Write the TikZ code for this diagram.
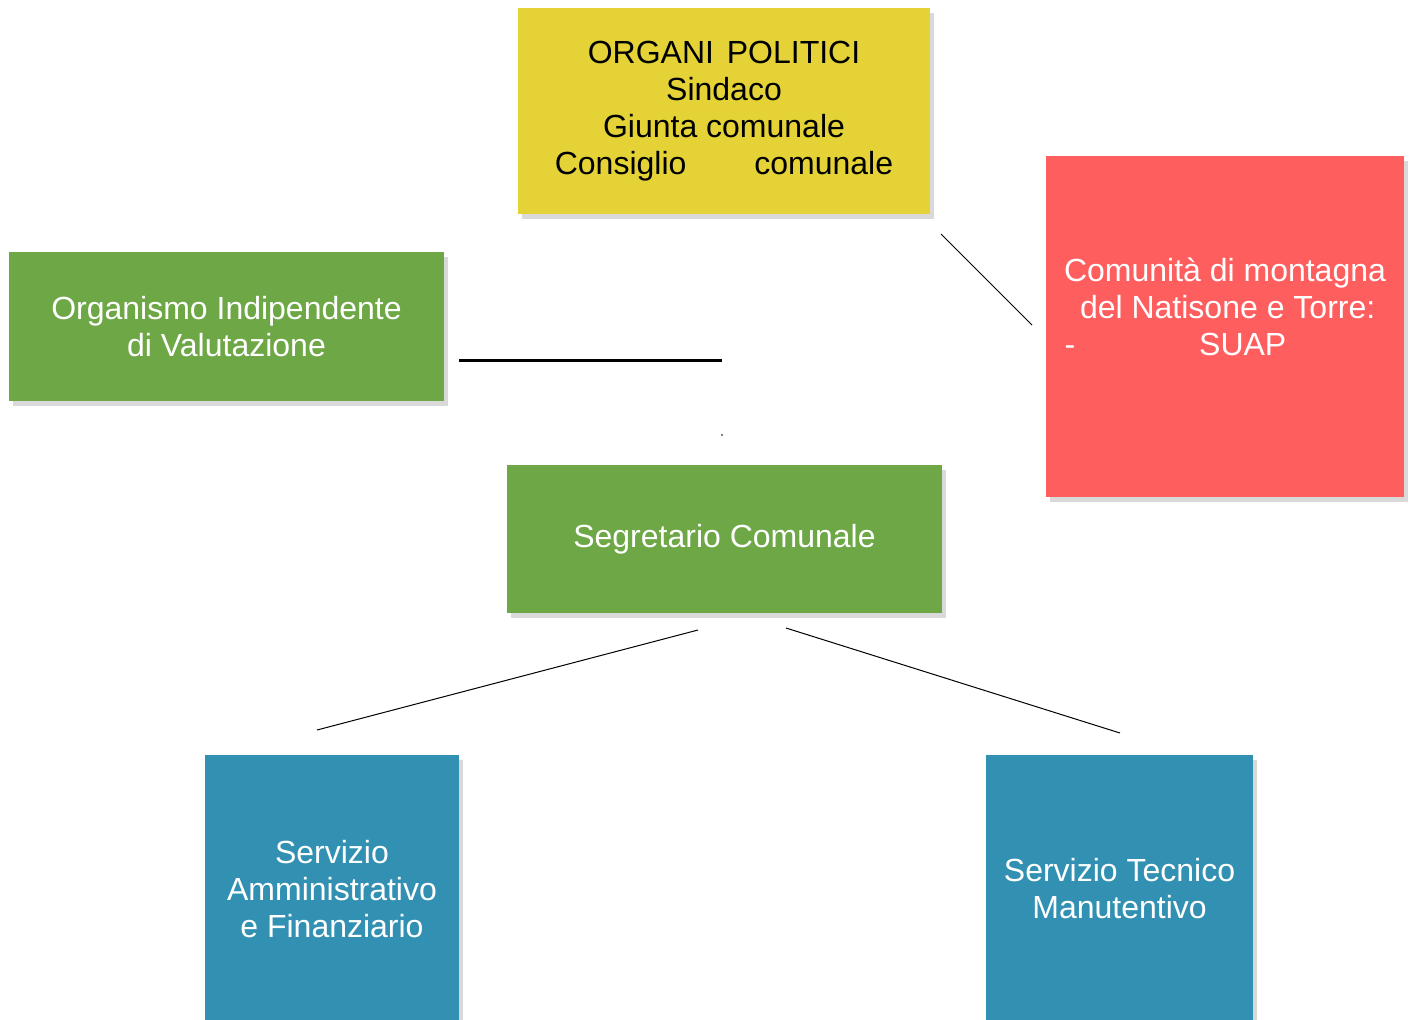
\documentclass[tikz,border=0pt]{standalone}
\usepackage{fontspec}
\setmainfont{Liberation Sans}
\usetikzlibrary{shadows,
                positioning
                }
\definecolor{politici}{RGB}{228,210,54}
\definecolor{oivgreen}{RGB}{110,167,70}
\definecolor{suapred}{RGB}{255,94,94}
\definecolor{servblue}{RGB}{50,145,178}

\tikzset{
  orgbox/.style={rectangle, inner sep=0pt, align=center, text=white,
    font=\fontsize{16}{18.5}\selectfont,
    drop shadow={shadow xshift=2pt, shadow yshift=-2.5pt, opacity=0.3}},
  orglabel/.style={inner sep=0pt, align=center, text=white,
    font=\fontsize{16}{18.5}\selectfont},
  link/.style={black, line width=0.5pt}
}

\begin{document}
\begin{tikzpicture}[x=0.5pt, y=-0.5pt]
  \useasboundingbox (0,0) rectangle (1409,1019);

  % vertici
  \node[orgbox, fill=politici, text=black, minimum width=206pt, minimum height=103pt]
    (politici) at (724,111) {ORGANI\hspace{2pt} POLITICI\\ Sindaco\\ Giunta comunale\\ Consiglio\hspace{34pt}comunale};
  \node[orgbox, fill=suapred, minimum width=179pt, minimum height=170.5pt]
    (comunita) at (1225,326.5) {};
  \node[orglabel] (suap) at (1225,307)
    {Comunità di montagna\\ \,del Natisone e Torre:\\ \makebox[160.5pt][l]{-\hspace{62pt}SUAP}};
  \node[orgbox, fill=oivgreen, minimum width=217.5pt, minimum height=74.5pt]
    (oiv) at (226.5,326.5) {Organismo Indipendente\\ di Valutazione};
  \node[orgbox, fill=oivgreen, minimum width=217.5pt, minimum height=74pt]
    (segretario) at (724.5,539) {Segretario Comunale};

  % servizi
  \node[orgbox, fill=servblue, minimum width=127pt, minimum height=134pt]
    (amministrativo) at (332,889) {Servizio\\ Amministrativo\\ e Finanziario};
  \node[orgbox, fill=servblue, minimum width=133.5pt, minimum height=134pt]
    (tecnico) at (1119.5,889) {Servizio Tecnico\\ Manutentivo};

  % collegamenti
  \coordinate (a1) at (941,234);  \coordinate (a2) at (1032,325);
  \coordinate (b1) at (459,360);  \coordinate (b2) at (722,360);
  \coordinate (c1) at (698,630);  \coordinate (c2) at (317,730);
  \coordinate (d1) at (786,628);  \coordinate (d2) at (1120,733);
  \coordinate (dot) at (722,435);

  \draw[link] (a1) -- (a2);
  \draw[black, line width=1.5pt] (b1) -- (b2);
  \draw[link] (c1) -- (c2);
  \draw[link] (d1) -- (d2);
  \fill[black] (dot) circle (0.4pt);

\end{tikzpicture}
\end{document}
